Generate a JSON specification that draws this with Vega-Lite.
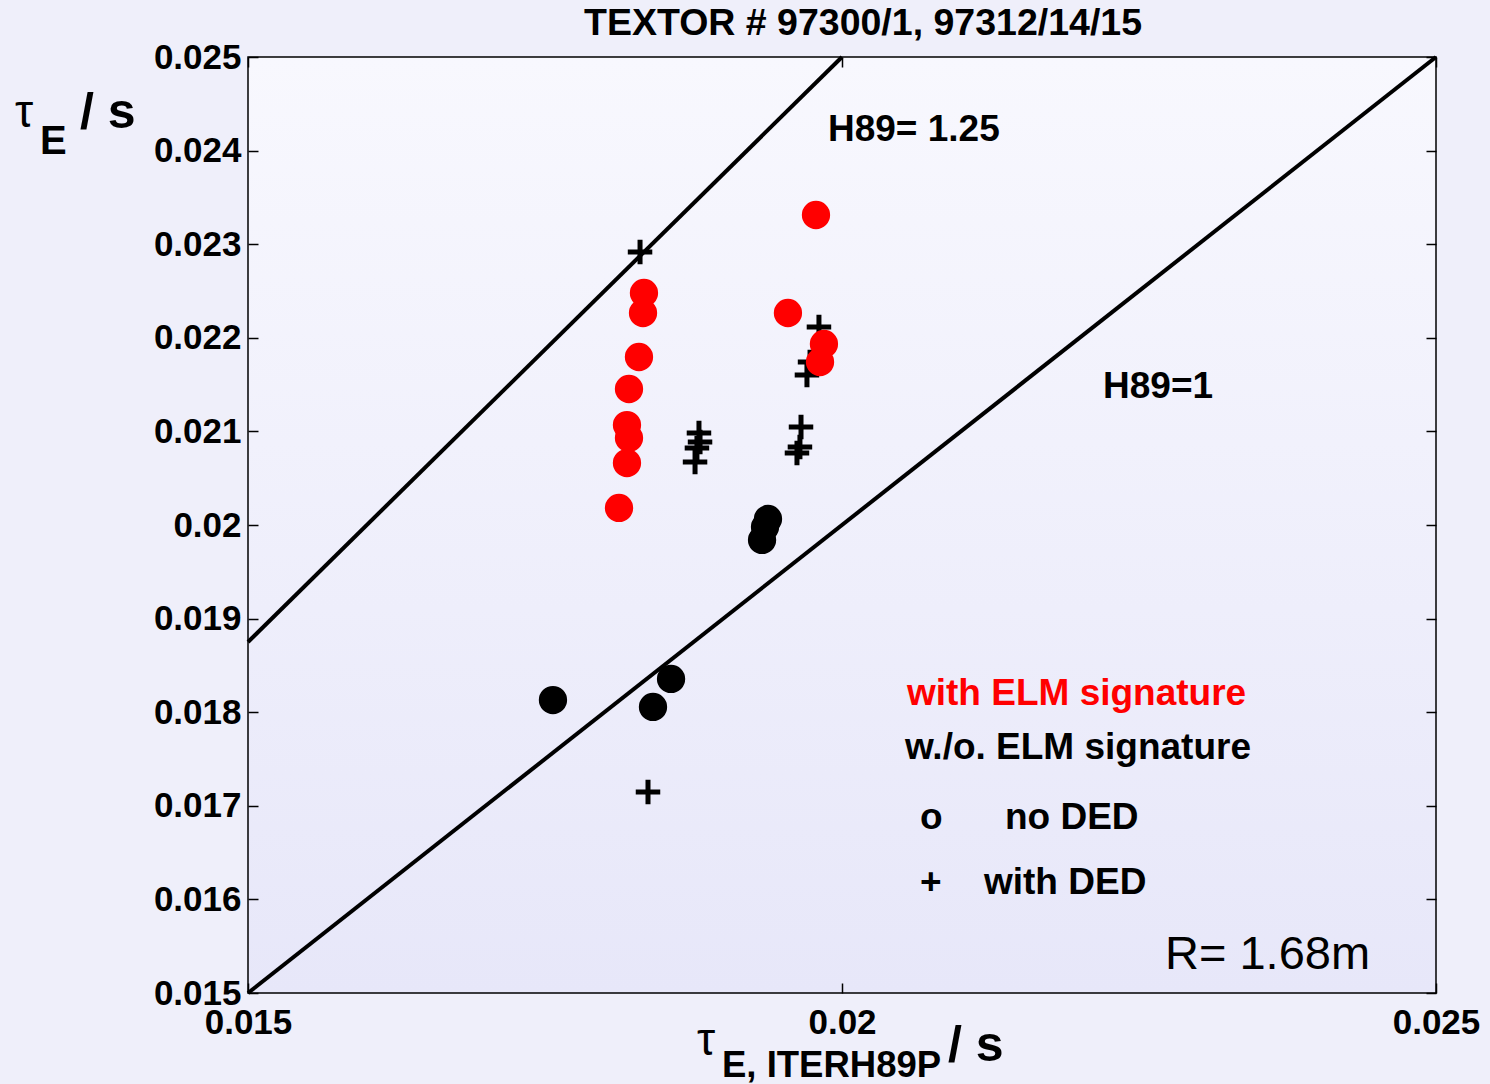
{
  "$schema": "https://vega.github.io/schema/vega-lite/v6.json",
  "width": 1188,
  "height": 936,
  "autosize": {"type": "none"},
  "padding": {"left": 248, "top": 57, "right": 54, "bottom": 91},
  "background": "#efeffa",
  "title": {
    "text": "TEXTOR # 97300/1, 97312/14/15",
    "font": "Liberation Sans",
    "fontSize": 37.5,
    "fontWeight": "bold",
    "color": "#000000",
    "anchor": "middle",
    "frame": "group",
    "dx": 21,
    "offset": -32,
    "baseline": "alphabetic"
  },
  "config": {
    "view": {
      "stroke": "#000000",
      "strokeWidth": 1.5,
      "fill": {"gradient": "linear", "x1": 0, "y1": 0, "x2": 0, "y2": 1, "stops": [{"offset": 0, "color": "#f8f8fe"}, {"offset": 1, "color": "#e7e7f9"}]}
    },
    "axis": {
      "domain": false,
      "grid": false,
      "labelFont": "Liberation Sans",
      "labelFontSize": 35,
      "labelFontWeight": "bold",
      "labelColor": "#000000",
      "tickColor": "#000000",
      "tickWidth": 1.5,
      "tickSize": -10,
      "labelFlush": false,
      "labelOverlap": false
    }
  },
  "datasets": {
    "lines": [
      {"line": "H89=1", "x": 0.015, "y": 0.015},
      {"line": "H89=1", "x": 0.025, "y": 0.025},
      {"line": "H89=1.25", "x": 0.015, "y": 0.01875},
      {"line": "H89=1.25", "x": 0.02, "y": 0.025}
    ],
    "points": [
      {"tau_h89": 0.018300, "tau_e": 0.022917, "elm": "without", "ded": "with"},
      {"tau_h89": 0.018367, "tau_e": 0.017147, "elm": "without", "ded": "with"},
      {"tau_h89": 0.018796, "tau_e": 0.020983, "elm": "without", "ded": "with"},
      {"tau_h89": 0.018805, "tau_e": 0.020887, "elm": "without", "ded": "with"},
      {"tau_h89": 0.018779, "tau_e": 0.020823, "elm": "without", "ded": "with"},
      {"tau_h89": 0.018763, "tau_e": 0.020673, "elm": "without", "ded": "with"},
      {"tau_h89": 0.019806, "tau_e": 0.022115, "elm": "without", "ded": "with"},
      {"tau_h89": 0.019731, "tau_e": 0.021741, "elm": "without", "ded": "with"},
      {"tau_h89": 0.019705, "tau_e": 0.021603, "elm": "without", "ded": "with"},
      {"tau_h89": 0.019655, "tau_e": 0.021047, "elm": "without", "ded": "with"},
      {"tau_h89": 0.019646, "tau_e": 0.020833, "elm": "without", "ded": "with"},
      {"tau_h89": 0.019621, "tau_e": 0.020769, "elm": "without", "ded": "with"},
      {"tau_h89": 0.017567, "tau_e": 0.018130, "elm": "without", "ded": "no"},
      {"tau_h89": 0.018409, "tau_e": 0.018056, "elm": "without", "ded": "no"},
      {"tau_h89": 0.018561, "tau_e": 0.018355, "elm": "without", "ded": "no"},
      {"tau_h89": 0.019377, "tau_e": 0.020064, "elm": "without", "ded": "no"},
      {"tau_h89": 0.019352, "tau_e": 0.019979, "elm": "without", "ded": "no"},
      {"tau_h89": 0.019327, "tau_e": 0.019840, "elm": "without", "ded": "no"},
      {"tau_h89": 0.019781, "tau_e": 0.023312, "elm": "with", "ded": "no"},
      {"tau_h89": 0.018333, "tau_e": 0.022479, "elm": "with", "ded": "no"},
      {"tau_h89": 0.018325, "tau_e": 0.022265, "elm": "with", "ded": "no"},
      {"tau_h89": 0.018291, "tau_e": 0.021795, "elm": "with", "ded": "no"},
      {"tau_h89": 0.018207, "tau_e": 0.021453, "elm": "with", "ded": "no"},
      {"tau_h89": 0.018190, "tau_e": 0.021068, "elm": "with", "ded": "no"},
      {"tau_h89": 0.018207, "tau_e": 0.020929, "elm": "with", "ded": "no"},
      {"tau_h89": 0.018190, "tau_e": 0.020662, "elm": "with", "ded": "no"},
      {"tau_h89": 0.018123, "tau_e": 0.020182, "elm": "with", "ded": "no"},
      {"tau_h89": 0.019545, "tau_e": 0.022265, "elm": "with", "ded": "no"},
      {"tau_h89": 0.019848, "tau_e": 0.021934, "elm": "with", "ded": "no"},
      {"tau_h89": 0.019815, "tau_e": 0.021741, "elm": "with", "ded": "no"}
    ],
    "notes": [
      {"kind": "curve label", "text": "H89= 1.25", "x": 0.019882, "y": 0.024103},
      {"kind": "curve label", "text": "H89=1", "x": 0.022197, "y": 0.021357},
      {"kind": "elm legend", "text": "with ELM signature", "x": 0.020547, "y": 0.018077},
      {"kind": "legend", "text": "w./o. ELM signature", "x": 0.020530, "y": 0.0175},
      {"kind": "legend", "text": "o", "x": 0.020657, "y": 0.016752},
      {"kind": "legend", "text": "no DED", "x": 0.021372, "y": 0.016752},
      {"kind": "legend", "text": "+", "x": 0.020657, "y": 0.016058},
      {"kind": "legend", "text": "with DED", "x": 0.021195, "y": 0.016058},
      {"kind": "radius", "text": "R= 1.68m", "x": 0.022719, "y": 0.015256},
      {"kind": "axis symbol", "text": "τ", "x": 0.013039, "y": 0.024252},
      {"kind": "axis symbol", "text": "τ", "x": 0.018779, "y": 0.014338},
      {"kind": "y subscript", "text": "E", "x": 0.013249, "y": 0.023964},
      {"kind": "unit", "text": "/ s", "x": 0.013586, "y": 0.024242},
      {"kind": "unit", "text": "/ s", "x": 0.020892, "y": 0.014274},
      {"kind": "x subscript", "text": "E, ITERH89P", "x": 0.018990, "y": 0.014101}
    ]
  },
  "layer": [
    {
      "data": {"name": "lines"},
      "mark": {"type": "line", "stroke": "#000000", "strokeWidth": 4},
      "encoding": {
        "x": {
          "field": "x", "type": "quantitative",
          "scale": {"domain": [0.015, 0.025], "nice": false, "zero": false},
          "axis": {"orient": "bottom", "values": [0.015, 0.02, 0.025], "format": ".3~f", "labelPadding": 22, "title": null}
        },
        "y": {
          "field": "y", "type": "quantitative",
          "scale": {"domain": [0.015, 0.025], "nice": false, "zero": false},
          "axis": {"orient": "left", "values": [0.015, 0.016, 0.017, 0.018, 0.019, 0.02, 0.021, 0.022, 0.023, 0.024, 0.025], "format": ".3~f", "labelPadding": 17, "title": null}
        },
        "detail": {"field": "line"}
      }
    },
    {
      "data": {"name": "points"},
      "transform": [{"filter": "datum.ded === 'with'"}],
      "mark": {"type": "point", "shape": "M-1,0H1M0,-1V1", "filled": false, "stroke": "#000000", "strokeWidth": 5, "size": 600, "opacity": 1},
      "encoding": {
        "x": {"field": "tau_h89", "type": "quantitative",
          "axis": {"orient": "top", "values": [0.015, 0.02, 0.025], "labels": false, "title": null}},
        "y": {"field": "tau_e", "type": "quantitative",
          "axis": {"orient": "right", "values": [0.015, 0.016, 0.017, 0.018, 0.019, 0.02, 0.021, 0.022, 0.023, 0.024, 0.025], "labels": false, "title": null}}
      }
    },
    {
      "data": {"name": "points"},
      "transform": [{"filter": "datum.ded === 'no'"}],
      "mark": {"type": "circle", "size": 800, "opacity": 1},
      "encoding": {
        "x": {"field": "tau_h89", "type": "quantitative", "axis": null},
        "y": {"field": "tau_e", "type": "quantitative", "axis": null},
        "color": {"field": "elm", "type": "nominal", "scale": {"domain": ["with", "without"], "range": ["#ff0000", "#000000"]}, "legend": null}
      }
    },
    {
      "data": {"name": "notes"},
      "transform": [{"filter": "datum.kind === 'curve label' || datum.kind === 'legend'"}],
      "mark": {"type": "text", "font": "Liberation Sans", "fontSize": 37, "fontWeight": "bold", "align": "left", "baseline": "alphabetic", "color": "#000000"},
      "encoding": {
        "x": {"field": "x", "type": "quantitative", "axis": null},
        "y": {"field": "y", "type": "quantitative", "axis": null},
        "text": {"field": "text"}
      }
    },
    {
      "data": {"name": "notes"},
      "transform": [{"filter": "datum.kind === 'elm legend'"}],
      "mark": {"type": "text", "font": "Liberation Sans", "fontSize": 37, "fontWeight": "bold", "align": "left", "baseline": "alphabetic", "color": "#ff0000"},
      "encoding": {
        "x": {"field": "x", "type": "quantitative", "axis": null},
        "y": {"field": "y", "type": "quantitative", "axis": null},
        "text": {"field": "text"}
      }
    },
    {
      "data": {"name": "notes"},
      "transform": [{"filter": "datum.kind === 'radius'"}],
      "mark": {"type": "text", "font": "Liberation Sans", "fontSize": 47, "fontWeight": "normal", "align": "left", "baseline": "alphabetic", "color": "#000000"},
      "encoding": {
        "x": {"field": "x", "type": "quantitative", "axis": null},
        "y": {"field": "y", "type": "quantitative", "axis": null},
        "text": {"field": "text"}
      }
    },
    {
      "data": {"name": "notes"},
      "transform": [{"filter": "datum.kind === 'axis symbol'"}],
      "mark": {"type": "text", "font": "Liberation Sans", "fontSize": 46, "fontWeight": "normal", "align": "left", "baseline": "alphabetic", "color": "#000000"},
      "encoding": {
        "x": {"field": "x", "type": "quantitative", "axis": null},
        "y": {"field": "y", "type": "quantitative", "axis": null},
        "text": {"field": "text"}
      }
    },
    {
      "data": {"name": "notes"},
      "transform": [{"filter": "datum.kind === 'y subscript'"}],
      "mark": {"type": "text", "font": "Liberation Sans", "fontSize": 40, "fontWeight": "bold", "align": "left", "baseline": "alphabetic", "color": "#000000"},
      "encoding": {
        "x": {"field": "x", "type": "quantitative", "axis": null},
        "y": {"field": "y", "type": "quantitative", "axis": null},
        "text": {"field": "text"}
      }
    },
    {
      "data": {"name": "notes"},
      "transform": [{"filter": "datum.kind === 'unit'"}],
      "mark": {"type": "text", "font": "Liberation Sans", "fontSize": 50, "fontWeight": "bold", "align": "left", "baseline": "alphabetic", "color": "#000000"},
      "encoding": {
        "x": {"field": "x", "type": "quantitative", "axis": null},
        "y": {"field": "y", "type": "quantitative", "axis": null},
        "text": {"field": "text"}
      }
    },
    {
      "data": {"name": "notes"},
      "transform": [{"filter": "datum.kind === 'x subscript'"}],
      "mark": {"type": "text", "font": "Liberation Sans", "fontSize": 36.5, "fontWeight": "bold", "align": "left", "baseline": "alphabetic", "color": "#000000"},
      "encoding": {
        "x": {"field": "x", "type": "quantitative", "axis": null},
        "y": {"field": "y", "type": "quantitative", "axis": null},
        "text": {"field": "text"}
      }
    }
  ],
  "resolve": {"axis": {"x": "independent", "y": "independent"}}
}
